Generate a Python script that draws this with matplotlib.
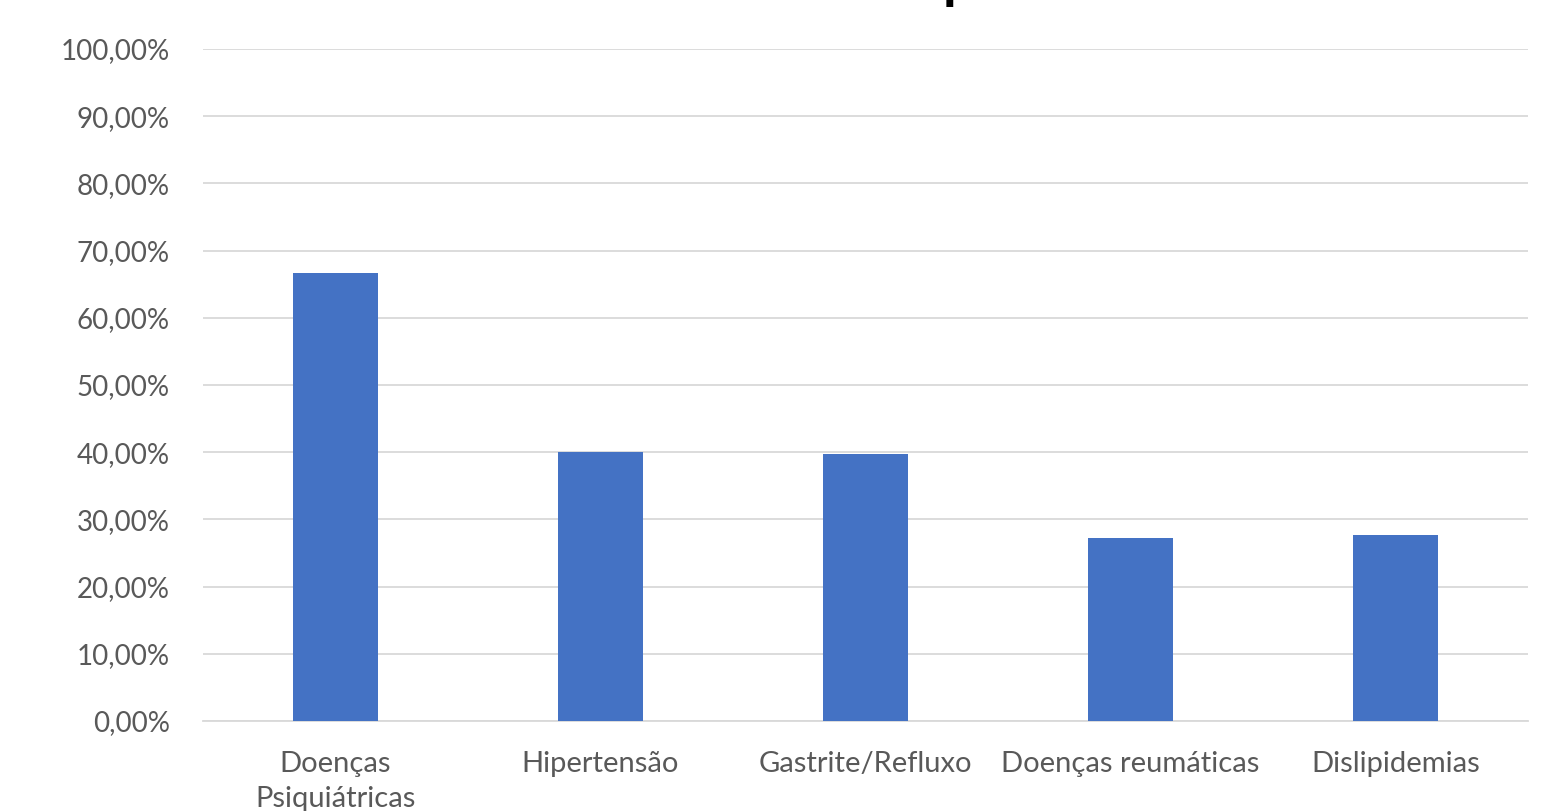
import matplotlib
matplotlib.use("Agg")
import matplotlib.pyplot as plt
from matplotlib.ticker import FuncFormatter, MultipleLocator

categories = ["Doenças\nPsiquiátricas", "Hipertensão", "Gastrite/Refluxo",
              "Doenças reumáticas", "Dislipidemias"]
percentages = [66.67, 40.0, 39.8, 27.3, 27.7]

plt.rcParams["font.family"] = ["Lato", "DejaVu Sans"]

fig = plt.figure(figsize=(15.59, 8.11), dpi=100)
W, H = 1559, 811
ax = fig.add_axes([203 / W, 1 - 721 / H, (1528 - 203) / W, (721 - 49) / H])

x = range(len(categories))
ax.bar(x, percentages, width=0.317, color="#4472C4", zorder=3)

ax.set_xlim(-0.5, len(categories) - 0.5)
ax.set_ylim(0, 100)
ax.yaxis.set_major_locator(MultipleLocator(10))
ax.yaxis.set_major_formatter(FuncFormatter(lambda v, _: f"{v:.2f}%".replace(".", ",")))
ax.set_xticks(list(x))
ax.set_xticklabels(categories)

ax.grid(axis="y", color="#D9D9D9", linewidth=1.3, zorder=0)
for side in ("top", "right", "left"):
    ax.spines[side].set_visible(False)
ax.spines["bottom"].set_color("#D9D9D9")
ax.spines["bottom"].set_linewidth(1.3)

ax.tick_params(axis="y", length=0, labelsize=20, labelcolor="#595959", pad=24)
ax.tick_params(axis="x", length=0, labelsize=21, labelcolor="#595959", pad=21.5)
for lbl in ax.get_xticklabels():
    lbl.set_linespacing(1.42)

# chart title, sitting above the top edge
fig.text(958 / W, 1 + 2 / H, "p", ha="center", va="baseline",
         fontsize=40, fontweight="bold", color="black")

fig.savefig("out.png", dpi=100)
